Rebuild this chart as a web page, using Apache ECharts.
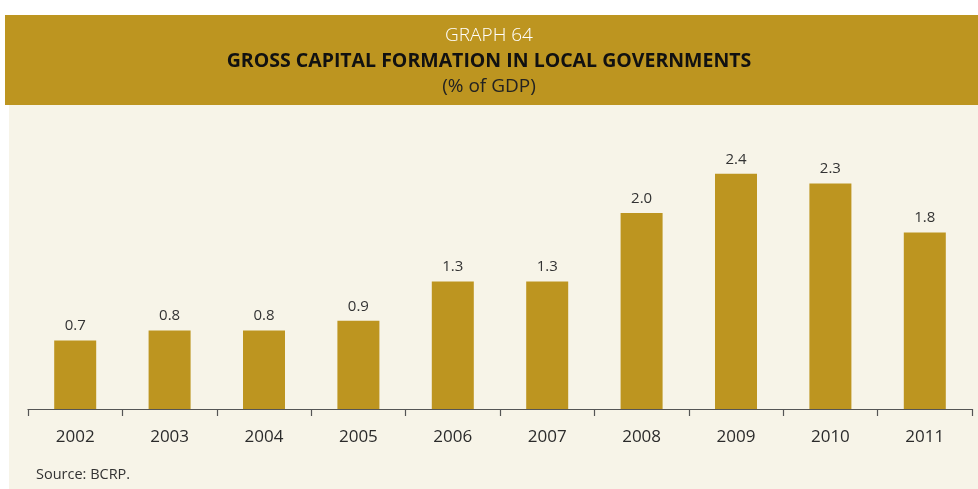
<!DOCTYPE html>
<html>
<head>
<meta charset="utf-8">
<script src="https://cdn.jsdelivr.net/npm/echarts@6/dist/echarts.min.js"></script>
<style>
  html, body { margin: 0; padding: 0; background: #ffffff; }
  #chart { width: 978px; height: 489px; }
</style>
</head>
<body>
<div id="chart"></div>
<script>
// Gross capital formation in local governments, % of GDP
const years = ['2002', '2003', '2004', '2005', '2006', '2007', '2008', '2009', '2010', '2011'];
const values = [0.7, 0.8, 0.8, 0.9, 1.3, 1.3, 2.0, 2.4, 2.3, 1.8];

const gold = '#BD9520';
const cream = '#F7F4E8';
const sans = '"Open Sans", sans-serif';

const chart = echarts.init(document.getElementById('chart'), null, { renderer: 'canvas' });

chart.setOption({
  backgroundColor: '#ffffff',
  animation: false,
  graphic: [
    { type: 'rect', z: -10, shape: { x: 9, y: 105, width: 969, height: 384 }, style: { fill: cream } },
    { type: 'rect', z: -5, shape: { x: 5, y: 15, width: 973, height: 90 }, style: { fill: gold } },
    { type: 'text', left: 'center', top: 26, style: { text: 'GRAPH 64', fill: '#ffffff', font: '300 19px ' + sans } },
    { type: 'text', left: 'center', top: 51, style: { text: 'GROSS CAPITAL FORMATION IN LOCAL GOVERNMENTS', fill: '#111111', font: 'bold 19.5px ' + sans } },
    { type: 'text', left: 'center', top: 77, style: { text: '(% of GDP)', fill: '#222222', font: '19px ' + sans } },
    { type: 'text', left: 36, top: 467, style: { text: 'Source: BCRP.', fill: '#333333', font: '14.5px ' + sans } }
  ],
  grid: { left: 28, right: 6, top: 115, bottom: 80, containLabel: false },
  xAxis: {
    type: 'category',
    data: years,
    axisLine: { lineStyle: { color: '#555555', width: 1.2 } },
    axisTick: { show: true, length: 7, lineStyle: { color: '#555555', width: 1.2 } },
    axisLabel: { color: '#2b2b2b', fontSize: 17, margin: 20, fontFamily: sans }
  },
  yAxis: {
    type: 'value',
    min: 0,
    max: 3,
    show: false,
    splitLine: { show: false }
  },
  series: [{
    type: 'bar',
    data: values,
    barWidth: 42,
    itemStyle: { color: gold },
    label: {
      show: true,
      position: 'top',
      distance: 7,
      color: '#333333',
      fontSize: 15,
      fontFamily: sans,
      formatter: p => p.value.toFixed(1)
    }
  }]
});
</script>
</body>
</html>
